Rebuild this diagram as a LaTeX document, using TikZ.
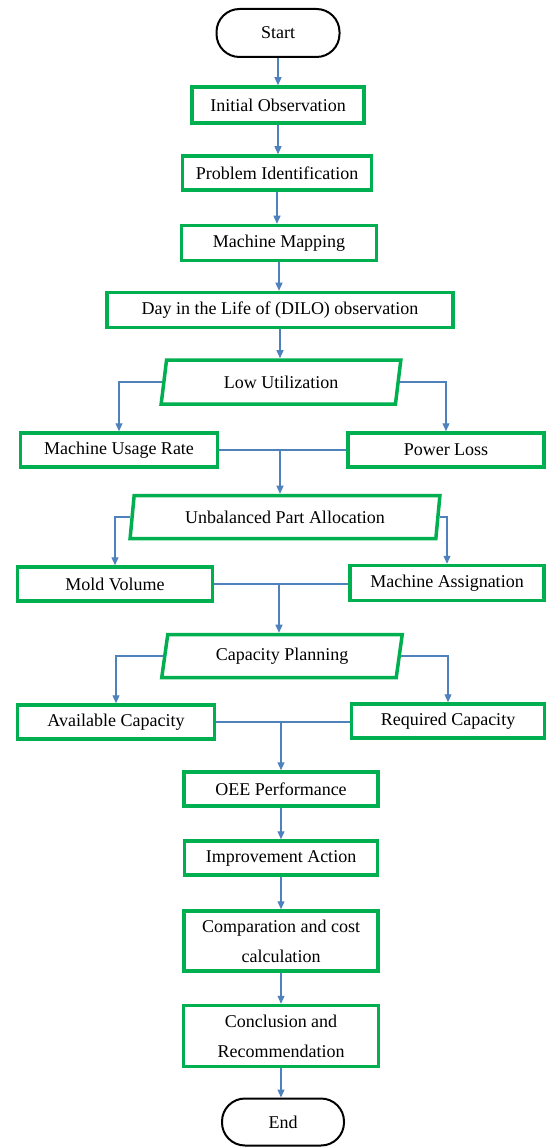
\documentclass[tikz,border=0pt]{standalone}
\usepackage{fontspec}
\setmainfont{Liberation Serif}
\usetikzlibrary{arrows.meta,shapes.geometric}
\definecolor{boxgreen}{RGB}{0,176,80}
\definecolor{linkblue}{RGB}{79,129,189}
\begin{document}
\begin{tikzpicture}[x=1pt,y=-1pt,
 every node/.style={font=\fontsize{18}{30}\selectfont, text=black},
 box/.style={draw=boxgreen, line width=3.5pt, rectangle, align=center, inner sep=0pt},
 term/.style={draw=black, line width=2pt, rectangle, rounded corners=23pt, inner sep=0pt},
 para/.style={draw=boxgreen, line width=3.5pt, trapezium, trapezium left angle=78, trapezium right angle=102, trapezium stretches=true, inner sep=0pt},
 conn/.style={draw=linkblue, line width=1.2pt, -{Triangle[length=8pt,width=7pt]}},
 link/.style={draw=linkblue, line width=1.2pt}]
\useasboundingbox (0,0) rectangle (547,1147);
\node[term, minimum width=123pt, minimum height=48pt] (start) at (278,33) {Start};
\node[box, minimum width=172pt, minimum height=36pt] (io) at (278,105) {Initial Observation};
\node[box, minimum width=189pt, minimum height=34pt] (pi) at (277,173) {Problem Identification};
\node[box, minimum width=195pt, minimum height=35pt] (mm) at (279,243) {Machine Mapping};
\node[box, minimum width=346pt, minimum height=35pt] (dilo) at (280,310) {Day in the Life of (DILO) observation};
\node[para, minimum width=240pt, minimum height=44pt] (lu) at (281,382) {Low Utilization};
\node[box, minimum width=197pt, minimum height=34pt] (mur) at (119,450) {Machine Usage Rate};
\node[box, minimum width=196pt, minimum height=34pt] (pl) at (446,450) {Power Loss};
\node[para, minimum width=310pt, minimum height=43pt] (upa) at (285,517) {Unbalanced Part Allocation};
\node[box, minimum width=195pt, minimum height=34pt] (mv) at (115,584) {Mold Volume};
\node[box, minimum width=194pt, minimum height=35pt] (ma) at (447,583) {Machine Assignation};
\node[para, minimum width=241pt, minimum height=43pt] (cp) at (282,656) {Capacity Planning};
\node[box, minimum width=197pt, minimum height=34pt] (ac) at (116,722) {Available Capacity};
\node[box, minimum width=193pt, minimum height=34pt] (rc) at (448,721) {Required Capacity};
\node[box, minimum width=194pt, minimum height=34pt] (oee) at (281,789) {OEE Performance};
\node[box, minimum width=193pt, minimum height=34pt] (ia) at (281,858) {Improvement Action};
\node[box, minimum width=194pt, minimum height=60pt] (cc) at (281,941) {Comparation and cost\\calculation};
\node[box, minimum width=195pt, minimum height=61pt] (cr) at (281,1036) {Conclusion and\\Recommendation};
\node[term, minimum width=122pt, minimum height=47pt] (end) at (283,1122) {End};
% straight arrows
\draw[conn] (start.south) -- (start.south |- io.north);
\draw[conn] (io.south) -- (io.south |- pi.north);
\draw[conn] (pi.south) -- (pi.south |- mm.north);
\draw[conn] (mm.south) -- (mm.south |- dilo.north);
\draw[conn] (dilo.south) -- (dilo.south |- lu.north);
% low utilization branches
\draw[conn] (lu.west) -| (mur.north);
\draw[conn] (lu.east) -| (pl.north);
\draw[link] (mur.east) -- (mur.east -| pl.west);
\path (mur.east -| dilo.south) coordinate (j1);
\draw[conn] (j1) -- (j1 |- upa.north);
% unbalanced branches
\draw[conn] (upa.west) -| (mv.north);
\draw[conn] (upa.east) -| (ma.north);
\draw[link] (mv.east) -- (mv.east -| ma.west);
\path (mv.east -| mm.south) coordinate (j2);
\draw[conn] (j2) -- (j2 |- cp.north);
% capacity branches
\draw[conn] (cp.west) -| (ac.north);
\draw[conn] (cp.east) -| (rc.north);
\draw[link] (ac.east) -- (ac.east -| rc.west);
\path (ac.east -| oee.north) coordinate (j3);
\draw[conn] (j3) -- (oee.north);
% bottom chain
\draw[conn] (oee.south) -- (ia.north);
\draw[conn] (ia.south) -- (cc.north);
\draw[conn] (cc.south) -- (cr.north);
\draw[conn] (cr.south) -- (cr.south |- end.north);
\end{tikzpicture}
\end{document}
